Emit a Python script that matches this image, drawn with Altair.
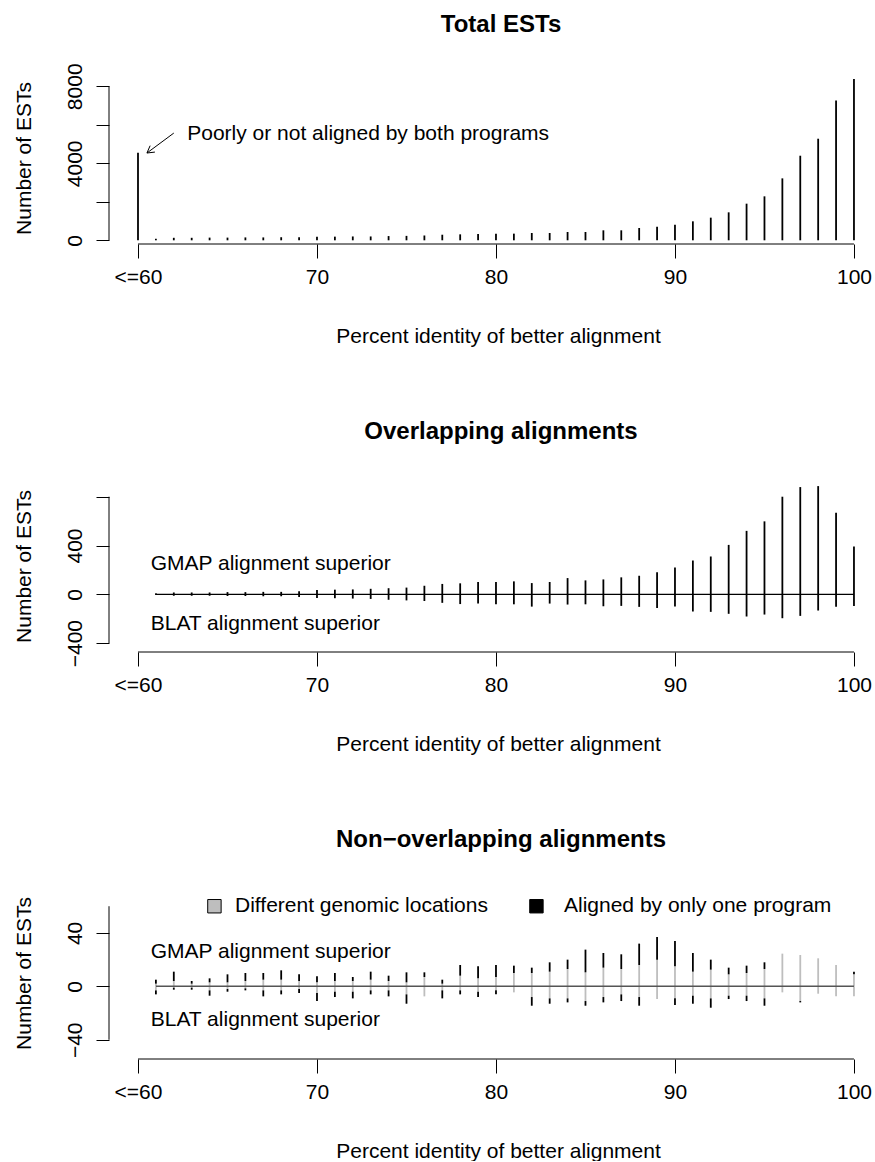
import math
import altair as alt
import pandas as pd

FONT = "Liberation Sans"
W, H = 760, 172
X_DOMAIN = [58.38, 100.84]

# ---------------- data ----------------
panel_titles = ["Total ESTs", "Overlapping alignments", "Non\u2212overlapping alignments"]
x_title = "Percent identity of better alignment"
y_title = "Number of ESTs"

x_tick_values = [60, 70, 80, 90, 100]
x_tick_labels = ["<=60", "70", "80", "90", "100"]

pct_total = list(range(60, 101))
total_ests = [4550, 80, 130, 130, 140, 140, 150, 150, 160, 160,
              180, 190, 200, 200, 220, 230, 250, 290, 310, 330,
              346, 346, 381, 381, 432, 432, 519, 519, 640, 709,
              813, 986, 1176, 1453, 1903, 2284, 3218, 4394, 5277, 7266, 8374]

pct_cmp = list(range(61, 101))
overlap_gmap = [8, 15, 15, 15, 18, 18, 20, 20, 25, 35,
                38, 40, 45, 50, 55, 70, 85, 90, 100,
                101, 106, 92, 101, 133, 114, 122, 139, 152, 180, 220,
                277, 310, 405, 520, 598, 800, 879, 887, 669, 392]
overlap_blat = [5, 12, 12, 12, 14, 14, 16, 16, 22, 30,
                32, 35, 38, 45, 50, 55, 70, 80, 76,
                82, 82, 101, 76, 84, 82, 98, 95, 103, 112, 101,
                141, 144, 160, 182, 166, 196, 177, 133, 103, 95]

# non-overlapping: gray = different genomic locations, black = aligned by only one program
diff_gmap = [2, 4, 2, 3, 3, 4, 5, 5, 4, 3, 4, 4, 5, 4, 3, 7, 2, 8, 6, 7,
             10, 10, 11, 13, 10.5, 14, 13, 16, 20, 15, 11, 12.5, 9, 10, 13, 24.5, 23.5, 21, 16, 9]
only_gmap = [3, 7, 2, 3, 6, 6, 5, 7, 5, 4.5, 6, 3, 6, 4, 7.5, 3.5, 3, 8, 9, 9,
             5.5, 4, 7, 7, 17, 11, 11, 16, 17, 19, 14, 7.5, 5, 5.5, 5, 0, 0, 0, 0, 2]
diff_blat = [3, 1, 1, 3, 2, 1.5, 3, 3, 2, 5, 4, 4, 3, 3, 6, 7.5, 3, 3, 4, 3,
             4.5, 8, 9, 9, 11, 8, 6, 8, 9.5, 9, 7, 9, 7, 7, 9, 4.5, 11, 5.5, 7.5, 7.5]
only_blat = [3, 1.5, 1.5, 4, 2, 1.5, 4.5, 3, 3, 6, 4, 5, 3, 4.5, 7, 0, 6, 3, 4, 3,
             0, 6.5, 4, 3, 3.5, 4, 5, 6.5, 0, 5, 6, 7, 2.5, 4, 5.5, 0, 1, 0, 0, 0]

legend_labels = ["Different genomic locations", "Aligned by only one program"]
legend_colors = ["#BEBEBE", "#000000"]
side_labels = ["GMAP alignment superior", "BLAT alignment superior"]
annotation = "Poorly or not aligned by both programs"

total_y_ticks, total_y_labels = [0, 2000, 4000, 6000, 8000], [0, 4000, 8000]
overlap_y_ticks, overlap_y_labels = [-400, -200, 0, 200, 400, 600, 800], [-400, 0, 400]
nonov_y_ticks, nonov_y_labels = [-40, -20, 0, 20, 40, 60], [-40, 0, 40]

total_y_domain = [-192, 8743]
overlap_y_domain = [-473, 937]
nonov_y_domain = [-54.4, 74.4]

NO_FRAME = alt.ViewBackground(stroke="transparent", strokeWidth=0)

# ---------------- helpers ----------------
def x_label_expr():
    expr = "''"
    for v, lab in reversed(list(zip(x_tick_values, x_tick_labels))):
        expr = f"datum.value == {v} ? '{lab}' : ({expr})"
    return expr


def x_enc(field):
    return alt.X(field, scale=alt.Scale(domain=X_DOMAIN, nice=False, zero=False),
                 axis=alt.Axis(values=x_tick_values, labelExpr=x_label_expr(), domain=False,
                               grid=False, tickSize=14, tickColor="black", tickWidth=1,
                               labelFontSize=21, labelColor="black", labelFont=FONT,
                               labelPadding=8, labelFlush=False, labelOverlap=False,
                               title=x_title, titleFontSize=21, titleFontWeight="normal",
                               titleFont=FONT, titleColor="black", titlePadding=38,
                               titleX=389))


def y_enc(field, domain, ticks, labels):
    lab = "[" + ",".join(str(v) for v in labels) + "]"
    return alt.Y(field, scale=alt.Scale(domain=domain, nice=False, zero=False),
                 axis=alt.Axis(values=ticks, format="d",
                               labelExpr=f"indexof({lab}, datum.value) >= 0 ? datum.label : ''",
                               domain=False, grid=False, tickSize=13, tickColor="black",
                               tickWidth=1, labelAngle=270, labelAlign="center",
                               labelBaseline="alphabetic", labelPadding=15,
                               labelFontSize=21, labelColor="black", labelFont=FONT,
                               labelOverlap=False, labelFlush=False,
                               title=y_title, titleFontSize=21, titleFontWeight="normal",
                               titleFont=FONT, titleColor="black", titlePadding=30))


def frame_layers(y_lo, y_hi):
    xa = alt.Chart(pd.DataFrame({"a": [x_tick_values[0]], "b": [x_tick_values[-1]]})).mark_rule(
        color="black", strokeWidth=1).encode(x="a:Q", x2="b:Q", y=alt.value(H))
    ya = alt.Chart(pd.DataFrame({"a": [y_lo], "b": [y_hi]})).mark_rule(
        color="black", strokeWidth=1).encode(y="a:Q", y2="b:Q", x=alt.value(0))
    return [xa, ya]


def title(t, off):
    return alt.TitleParams(t, fontSize=24, fontWeight="bold", font=FONT, color="black",
                           anchor="middle", offset=off, dx=12)


def text_layer(txt, xv, yv, size=21):
    return alt.Chart(pd.DataFrame({"t": [txt]})).mark_text(
        align="left", baseline="alphabetic", fontSize=size, font=FONT, color="black"
    ).encode(x=alt.datum(xv), y=alt.datum(yv), text="t:N")

# ---------------- panel 1 ----------------
df1 = pd.DataFrame({"pct": pct_total, "lo": 0, "n": total_ests})
bars1 = alt.Chart(df1).mark_rule(color="black", strokeWidth=1.8).encode(
    x=x_enc("pct:Q"), y=y_enc("lo:Q", total_y_domain, total_y_ticks, total_y_labels), y2="n:Q")

# arrow from annotation to the <=60 bar
tip = (60.5, 4535)
tail = (62.0, 5570)
sx = W / (X_DOMAIN[1] - X_DOMAIN[0])
sy = H / (total_y_domain[1] - total_y_domain[0])
dxp, dyp = (tail[0] - tip[0]) * sx, (tail[1] - tip[1]) * sy
L = math.hypot(dxp, dyp)
ux, uy = dxp / L, dyp / L
segs = [(tip[0], tip[1], tail[0], tail[1])]
for ang in (math.radians(30), math.radians(-30)):
    hx = ux * math.cos(ang) - uy * math.sin(ang)
    hy = ux * math.sin(ang) + uy * math.cos(ang)
    segs.append((tip[0], tip[1], tip[0] + hx * 8 / sx, tip[1] + hy * 8 / sy))
arrow = alt.Chart(pd.DataFrame(segs, columns=["x", "y", "x2", "y2"])).mark_rule(
    color="black", strokeWidth=1).encode(x="x:Q", y="y:Q", x2="x2:Q", y2="y2:Q")

p1 = alt.layer(bars1, *frame_layers(total_y_ticks[0], total_y_ticks[-1]), arrow,
               text_layer(annotation, 62.75, 5195)).properties(
    width=W, height=H, title=title(panel_titles[0], 26), view=NO_FRAME)

# ---------------- panel 2 ----------------
df2 = pd.DataFrame({"pct": pct_cmp, "lo": [-v for v in overlap_blat], "hi": overlap_gmap})
bars2 = alt.Chart(df2).mark_rule(color="black", strokeWidth=1.8).encode(
    x=x_enc("pct:Q"), y=y_enc("lo:Q", overlap_y_domain, overlap_y_ticks, overlap_y_labels), y2="hi:Q")
zero2 = alt.Chart(pd.DataFrame({"a": [pct_cmp[0]], "b": [pct_cmp[-1]], "z": [0]})).mark_rule(
    color="black", strokeWidth=1.3).encode(x="a:Q", x2="b:Q", y="z:Q")
p2 = alt.layer(bars2, zero2, *frame_layers(overlap_y_ticks[0], overlap_y_ticks[-1]),
               text_layer(side_labels[0], 60.71, 197),
               text_layer(side_labels[1], 60.71, -295)).properties(
    width=W, height=H, title=title(panel_titles[1], 36), view=NO_FRAME)

# ---------------- panel 3 ----------------
rows = []
for p, g, b, gn, bn in zip(pct_cmp, diff_gmap, only_gmap, diff_blat, only_blat):
    rows.append((p, 0, g, legend_labels[0]))
    rows.append((p, g, g + b, legend_labels[1]))
    rows.append((p, 0, -gn, legend_labels[0]))
    rows.append((p, -gn, -(gn + bn), legend_labels[1]))
df3 = pd.DataFrame(rows, columns=["pct", "y0", "y1", "kind"])
df3 = df3[df3["y0"] != df3["y1"]]
bars3 = alt.Chart(df3).mark_rule(strokeWidth=1.8).encode(
    x=x_enc("pct:Q"), y=y_enc("y0:Q", nonov_y_domain, nonov_y_ticks, nonov_y_labels), y2="y1:Q",
    color=alt.Color("kind:N", scale=alt.Scale(domain=legend_labels, range=legend_colors), legend=None))
zero3 = alt.Chart(pd.DataFrame({"a": [pct_cmp[0]], "b": [pct_cmp[-1]], "z": [0]})).mark_rule(
    color="#555555", strokeWidth=1.5).encode(x="a:Q", x2="b:Q", y="z:Q")

leg_sq = alt.Chart(pd.DataFrame({"k": legend_labels, "c": legend_colors, "x": [64.27, 82.26]})).mark_square(
    size=180, stroke="black", strokeWidth=1, opacity=1).encode(
    x="x:Q", y=alt.datum(60), fill=alt.Fill("c:N", scale=None))
leg_tx = alt.Chart(pd.DataFrame({"k": legend_labels, "x": [65.42, 83.8]})).mark_text(
    align="left", baseline="middle", fontSize=21, font=FONT, color="black").encode(
    x="x:Q", y=alt.datum(60), text="k:N")

p3 = alt.layer(bars3, zero3, *frame_layers(nonov_y_ticks[0], nonov_y_ticks[-1]),
               text_layer(side_labels[0], 60.71, 21.3),
               text_layer(side_labels[1], 60.71, -30),
               leg_sq, leg_tx).properties(
    width=W, height=H, title=title(panel_titles[2], 35), view=NO_FRAME)

chart = alt.vconcat(p1, p2, p3, spacing=74).properties(
    padding={"left": 13, "top": 12, "right": 0, "bottom": 0}
).configure_view(stroke="transparent", strokeWidth=0).configure(background="white")

chart.save("out.html", embed_options={"renderer": "svg", "actions": False})
